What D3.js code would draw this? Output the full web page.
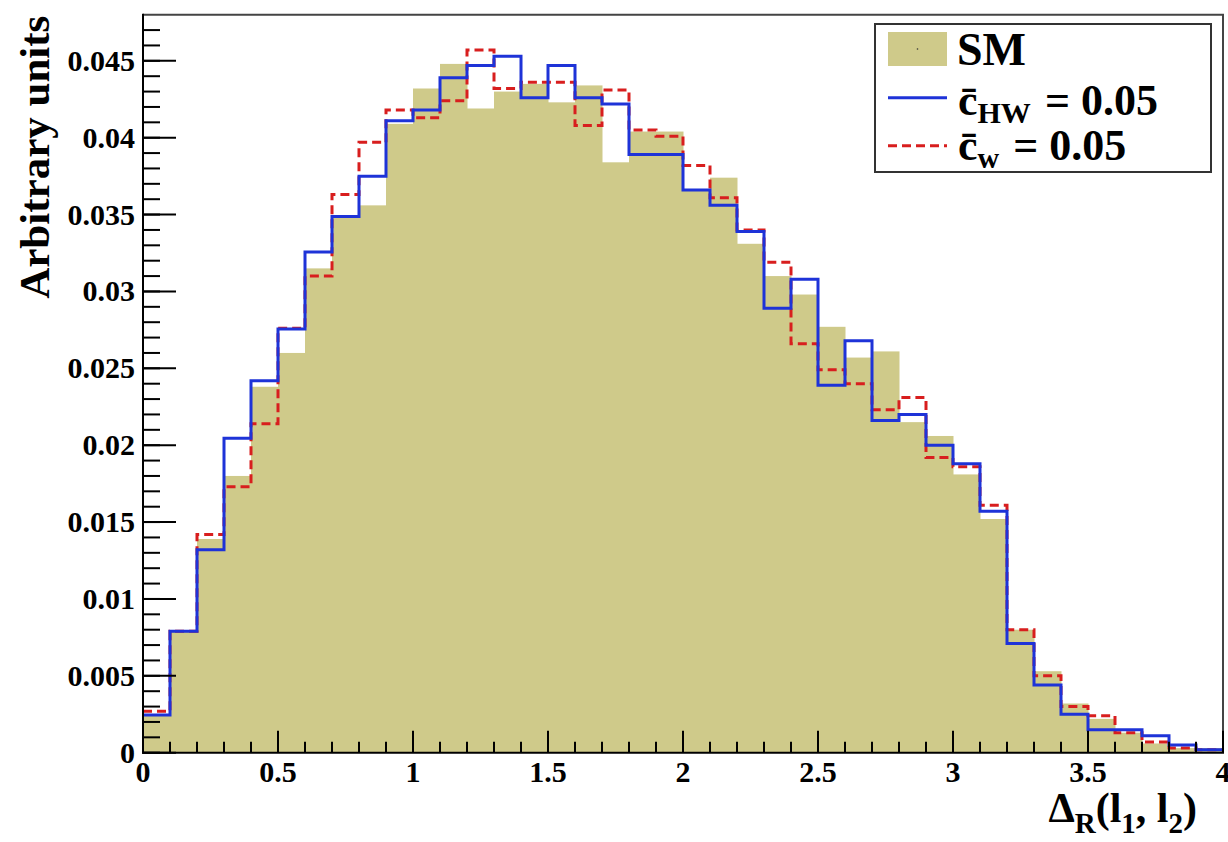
<!DOCTYPE html>
<html>
<head>
<meta charset="utf-8">
<script src="https://cdn.jsdelivr.net/npm/d3@7/dist/d3.min.js"></script>
<style>
  html, body { margin: 0; padding: 0; background: #fff; }
  svg { display: block; }
  text { font-family: "Liberation Serif", "Times New Roman", serif; font-weight: bold; fill: #000; }
</style>
</head>
<body>
<svg id="chart" width="1228" height="842"></svg>
<script>
// Histogram binning: 40 bins of width 0.1 on [0, 4]
const binEdges = d3.range(0, 41).map(i => +(i * 0.1).toFixed(1));

// Standard Model (filled histogram)
const smValues = [
  0.0025, 0.0079, 0.0139, 0.0180, 0.0238, 0.0260, 0.0315, 0.0348, 0.0356, 0.0409,
  0.0432, 0.0448, 0.0419, 0.0430, 0.0435, 0.0423, 0.0434, 0.0384, 0.0404, 0.0404,
  0.0366, 0.0374, 0.0331, 0.0310, 0.0298, 0.0277, 0.0257, 0.0261, 0.0215, 0.0206,
  0.0181, 0.0152, 0.0080, 0.0053, 0.0032, 0.0022, 0.0013, 0.0006, 0.0003, 0.0003
];

// c_HW = 0.05 (solid blue)
const cHWValues = [
  0.00245, 0.0079, 0.0132, 0.02045, 0.0242, 0.02755, 0.03256, 0.03488, 0.0375, 0.0411,
  0.0418, 0.0439, 0.0447, 0.0453, 0.0426, 0.0447, 0.0426, 0.0422, 0.0389, 0.0389,
  0.0366, 0.0356, 0.0339, 0.0289, 0.0308, 0.0239, 0.0268, 0.0216, 0.0220, 0.0200,
  0.0188, 0.0157, 0.0071, 0.0044, 0.0025, 0.0015, 0.0015, 0.0011, 0.0005, 0.0002
];

// c_W = 0.05 (dashed red)
const cWValues = [
  0.0027, 0.0079, 0.0142, 0.0173, 0.0214, 0.0276, 0.0310, 0.0363, 0.0397, 0.0418,
  0.0413, 0.0424, 0.0457, 0.0432, 0.0436, 0.0436, 0.0408, 0.0431, 0.0405, 0.0401,
  0.0382, 0.0361, 0.0340, 0.0319, 0.0266, 0.0249, 0.0240, 0.0223, 0.0231, 0.0192,
  0.0186, 0.0161, 0.0080, 0.0050, 0.0030, 0.0024, 0.0013, 0.0007, 0.0003, 0.0002
];

const xTickLabels = ["0", "0.5", "1", "1.5", "2", "2.5", "3", "3.5", "4"];
const yTickLabels = ["0", "0.005", "0.01", "0.015", "0.02", "0.025", "0.03", "0.035", "0.04", "0.045"];

const legendLabels = ["SM", "c_HW = 0.05", "c_w = 0.05"];

const colors = { sm: "#cfca8a", hw: "#1e33d8", w: "#d81e1e" };

const svg = d3.select("#chart");
const plot = { left: 143, right: 1223, top: 14.7, bottom: 752.7 };

const x = d3.scaleLinear().domain([0, 4]).range([plot.left, plot.right]);
const y = d3.scaleLinear().domain([0, 0.048]).range([plot.bottom, plot.top]);

// Filled SM bars
svg.append("g")
  .selectAll("rect")
  .data(smValues)
  .join("rect")
  .attr("x", (d, i) => x(binEdges[i]))
  .attr("width", (d, i) => x(binEdges[i + 1]) - x(binEdges[i]) + 0.5)
  .attr("y", d => y(d))
  .attr("height", d => y(0) - y(d))
  .attr("fill", colors.sm);

// Step outline for a histogram
function stepPath(values) {
  const pts = [];
  values.forEach((v, i) => {
    pts.push([x(binEdges[i]), y(v)]);
    pts.push([x(binEdges[i + 1]), y(v)]);
  });
  return d3.line()(pts);
}

svg.append("path")
  .attr("d", stepPath(cWValues))
  .attr("fill", "none")
  .attr("stroke", colors.w)
  .attr("stroke-width", 3)
  .attr("stroke-dasharray", "9,5");

svg.append("path")
  .attr("d", stepPath(cHWValues))
  .attr("fill", "none")
  .attr("stroke", colors.hw)
  .attr("stroke-width", 3);

// Frame (top and right)
svg.append("path")
  .attr("d", `M${plot.left},${plot.top}H${plot.right}V${plot.bottom}`)
  .attr("fill", "none")
  .attr("stroke", "#444")
  .attr("stroke-width", 2);

// Y axis
const yMajor = d3.range(0, 10).map(i => i * 0.005);
const yMinor = d3.range(0, 48).map(i => i * 0.001);
const yAxis = svg.append("g").attr("stroke", "#000").attr("stroke-width", 2);
yAxis.selectAll("line.minor")
  .data(yMinor)
  .join("line")
  .attr("class", "minor")
  .attr("x1", plot.left).attr("x2", plot.left + 17)
  .attr("y1", d => y(d)).attr("y2", d => y(d));
yAxis.selectAll("line.major")
  .data(yMajor)
  .join("line")
  .attr("class", "major")
  .attr("x1", plot.left).attr("x2", plot.left + 33)
  .attr("y1", d => y(d)).attr("y2", d => y(d));
yAxis.append("line")
  .attr("x1", plot.left).attr("x2", plot.left)
  .attr("y1", plot.top - 1).attr("y2", plot.bottom + 1);

svg.append("g")
  .selectAll("text")
  .data(yMajor)
  .join("text")
  .attr("x", plot.left - 8)
  .attr("y", d => y(d) + 10)
  .attr("text-anchor", "end")
  .attr("font-size", 30)
  .text((d, i) => yTickLabels[i]);

// X axis
const xMajor = d3.range(0, 9).map(i => i * 0.5);
const xMinor = d3.range(0, 41).map(i => i * 0.1);
const xAxis = svg.append("g").attr("stroke", "#000").attr("stroke-width", 2);
xAxis.selectAll("line.minor")
  .data(xMinor)
  .join("line")
  .attr("class", "minor")
  .attr("x1", d => x(d)).attr("x2", d => x(d))
  .attr("y1", plot.bottom).attr("y2", plot.bottom - 11);
xAxis.selectAll("line.major")
  .data(xMajor)
  .join("line")
  .attr("class", "major")
  .attr("x1", d => x(d)).attr("x2", d => x(d))
  .attr("y1", plot.bottom).attr("y2", plot.bottom - 22);
xAxis.append("line")
  .attr("x1", plot.left - 1).attr("x2", plot.right + 1)
  .attr("y1", plot.bottom).attr("y2", plot.bottom);

svg.append("g")
  .selectAll("text")
  .data(xMajor)
  .join("text")
  .attr("x", d => x(d))
  .attr("y", plot.bottom + 29)
  .attr("text-anchor", "middle")
  .attr("font-size", 30)
  .text((d, i) => xTickLabels[i]);

// Y title
svg.append("text")
  .attr("transform", `translate(49,${plot.top + 1}) rotate(-90)`)
  .attr("text-anchor", "end")
  .attr("font-size", 43)
  .text("Arbitrary units");

// X title: Δ_R(l_1, l_2)
const xt = svg.append("text")
  .attr("x", 1197)
  .attr("y", 822)
  .attr("text-anchor", "end")
  .attr("font-size", 42);
xt.append("tspan").text("Δ");
xt.append("tspan").attr("font-size", 29).attr("dy", 11).text("R");
xt.append("tspan").attr("dy", -11).text("(l");
xt.append("tspan").attr("font-size", 29).attr("dy", 11).text("1");
xt.append("tspan").attr("dy", -11).text(", l");
xt.append("tspan").attr("font-size", 29).attr("dy", 11).text("2");
xt.append("tspan").attr("dy", -11).text(")");

// Legend
const lg = svg.append("g");
lg.append("rect")
  .attr("x", 875).attr("y", 24)
  .attr("width", 336).attr("height", 148)
  .attr("fill", "#fff")
  .attr("stroke", "#333")
  .attr("stroke-width", 2);
lg.append("rect")
  .attr("x", 888).attr("y", 32)
  .attr("width", 59).attr("height", 34)
  .attr("fill", colors.sm);
lg.append("circle")
  .attr("cx", 917.5).attr("cy", 49).attr("r", 0.8).attr("fill", "#333");
lg.append("line")
  .attr("x1", 888).attr("x2", 947).attr("y1", 97.7).attr("y2", 97.7)
  .attr("stroke", colors.hw).attr("stroke-width", 3);
lg.append("line")
  .attr("x1", 888).attr("x2", 947).attr("y1", 145.7).attr("y2", 145.7)
  .attr("stroke", colors.w).attr("stroke-width", 3)
  .attr("stroke-dasharray", "9,5");

lg.append("text")
  .attr("x", 957).attr("y", 65)
  .attr("font-size", 46)
  .text(legendLabels[0]);

function coefLabel(label, yBase) {
  const [sym, rest] = label.split("_");
  const [sub, ...tail] = rest.split(" ");
  const t = lg.append("text").attr("x", 958).attr("y", yBase).attr("font-size", 44);
  t.append("tspan").text(sym + "\u0304");
  t.append("tspan").attr("font-size", 30).attr("dy", 8).text(sub);
  t.append("tspan").attr("dy", -8).attr("dx", 3).text(" " + tail.join(" "));
}
coefLabel(legendLabels[1], 115);
coefLabel(legendLabels[2], 160);
</script>
</body>
</html>
